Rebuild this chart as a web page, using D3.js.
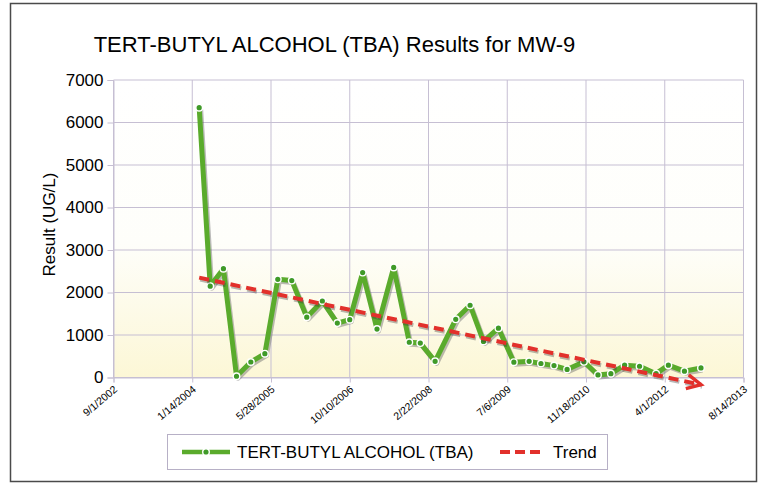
<!DOCTYPE html>
<html>
<head>
<meta charset="utf-8">
<script src="https://cdn.jsdelivr.net/npm/d3@7"></script>
<style>
  body { margin: 0; background: #fff; }
  text { font-family: Arial, "Liberation Sans", sans-serif; fill: #000; }
</style>
</head>
<body>
<div id="chart"></div>
<script>
////// DATA
// sample dates (m/d/yyyy) and TBA results in UG/L
var sampleDates = [
  "2/27/2004", "5/7/2004", "7/30/2004", "10/21/2004", "1/20/2005", "4/19/2005",
  "7/10/2005", "10/7/2005", "1/10/2006", "4/19/2006", "7/23/2006", "10/10/2006",
  "12/31/2006", "4/1/2007", "7/16/2007", "10/23/2007", "1/1/2008", "4/4/2008",
  "8/13/2008", "11/12/2008", "2/5/2009", "5/11/2009", "8/17/2009", "11/22/2009",
  "2/5/2010", "4/29/2010", "7/21/2010", "11/5/2010", "2/2/2011", "4/25/2011",
  "7/21/2011", "10/24/2011", "2/6/2012", "4/24/2012", "8/4/2012", "11/17/2012"
];
var tbaValues = [
  6350, 2150, 2560, 30, 365, 560,
  2310, 2280, 1420, 1800, 1280, 1360,
  2470, 1140, 2590, 830, 810, 380,
  1370, 1700, 850, 1160, 360, 380,
  330, 280, 190, 370, 60, 90,
  290, 265, 90, 290, 150, 225
];
// trend line end points
var trendDates = ["2/27/2004", "11/17/2012"];
var trendValues = [2350, -170];

// axis ticks
var xTickLabels = ["9/1/2002", "1/14/2004", "5/28/2005", "10/10/2006", "2/22/2008",
                   "7/6/2009", "11/18/2010", "4/1/2012", "8/14/2013"];
var yTicks = [0, 1000, 2000, 3000, 4000, 5000, 6000, 7000];

var seriesName = "TERT-BUTYL ALCOHOL (TBA)";
var trendName = "Trend";
var chartTitle = "TERT-BUTYL ALCOHOL (TBA) Results for MW-9";
var yTitle = "Result (UG/L)";

////// SETUP SVG
var W = 762, H = 487;
var margin = { top: 80, left: 113.5 },
    width = 630,
    height = 297.5;

var parseDate = d3.utcParse("%m/%d/%Y");
var fmt = d3.utcFormat("%-m/%-d/%Y");

var data = sampleDates.map(function(d, i) {
  return { date: parseDate(d), value: tbaValues[i] };
});
var trend = trendDates.map(function(d, i) {
  return { date: parseDate(d), value: trendValues[i] };
});
var xTicks = xTickLabels.map(parseDate);

var svg = d3.select("#chart").append("svg")
  .attr("width", W)
  .attr("height", H);

var defs = svg.append("defs");

// plot background: white at top fading to pale yellow
var grad = defs.append("linearGradient")
  .attr("id", "bg").attr("x1", 0).attr("y1", 0).attr("x2", 0).attr("y2", 1);
grad.append("stop").attr("offset", "0%").attr("stop-color", "#ffffff");
grad.append("stop").attr("offset", "55%").attr("stop-color", "#fefefa");
grad.append("stop").attr("offset", "100%").attr("stop-color", "#fcf7d6");

// trend arrowhead
defs.append("marker")
  .attr("id", "arrow")
  .attr("markerUnits", "userSpaceOnUse")
  .attr("viewBox", "-16 -9 20 18")
  .attr("refX", 0).attr("refY", 0)
  .attr("markerWidth", 20).attr("markerHeight", 18)
  .attr("orient", "auto")
  .append("path")
  .attr("d", "M-14,-7 L0,0 L-14,7")
  .attr("fill", "none")
  .attr("stroke", "#e2302b")
  .attr("stroke-width", 3.5);

// outer frame
svg.append("rect")
  .attr("x", 10.5).attr("y", 3.5)
  .attr("width", 746).attr("height", 478)
  .attr("fill", "#fff")
  .attr("stroke", "#4a4a4a")
  .attr("stroke-width", 1.5);

// title
svg.append("text")
  .attr("x", 334.5).attr("y", 52)
  .attr("text-anchor", "middle")
  .style("font-size", "22px")
  .text(chartTitle);

var g = svg.append("g")
  .attr("transform", "translate(" + margin.left + "," + margin.top + ")");

////// SCALES
var x = d3.scaleUtc()
  .domain([xTicks[0], xTicks[xTicks.length - 1]])
  .range([0, width]);

var y = d3.scaleLinear()
  .domain([0, 7000])
  .range([height, 0]);

g.append("rect")
  .attr("width", width).attr("height", height)
  .attr("fill", "url(#bg)");

////// GRID
var gridColor = "#c6bfd3";
g.append("g").selectAll("line")
  .data(yTicks)
  .join("line")
  .attr("x1", 0).attr("x2", width)
  .attr("y1", function(d) { return y(d); })
  .attr("y2", function(d) { return y(d); })
  .attr("stroke", gridColor);

g.append("g").selectAll("line")
  .data(xTicks)
  .join("line")
  .attr("y1", 0).attr("y2", height)
  .attr("x1", function(d) { return x(d); })
  .attr("x2", function(d) { return x(d); })
  .attr("stroke", gridColor);

////// AXES
var yAxis = g.append("g")
  .call(d3.axisLeft(y).tickValues(yTicks).tickSize(6).tickPadding(4).tickFormat(d3.format("d")));
yAxis.select(".domain").attr("stroke", gridColor);
yAxis.selectAll(".tick line").attr("stroke", gridColor);
yAxis.selectAll("text").style("font-size", "17px").attr("fill", "#000");

var xAxis = g.append("g")
  .attr("transform", "translate(0," + height + ")")
  .call(d3.axisBottom(x).tickValues(xTicks).tickSize(5).tickFormat(fmt));
xAxis.select(".domain").attr("stroke", gridColor);
xAxis.selectAll(".tick line").attr("stroke", gridColor);
xAxis.selectAll("text")
  .attr("x", 0).attr("y", 0).attr("dy", 0)
  .attr("text-anchor", "end")
  .attr("transform", "translate(4,13) rotate(-40)")
  .style("font-size", "10.5px")
  .attr("fill", "#000");

// y axis title
svg.append("text")
  .attr("transform", "translate(54.5,224.5) rotate(-90)")
  .attr("text-anchor", "middle")
  .style("font-size", "17px")
  .text(yTitle);

////// SERIES
var line = d3.line()
  .x(function(d) { return x(d.date); })
  .y(function(d) { return y(d.value); });

// shadows
g.append("path")
  .datum(data)
  .attr("d", line)
  .attr("transform", "translate(1.5,2)")
  .attr("fill", "none")
  .attr("stroke", "#6b6b6b")
  .attr("stroke-opacity", 0.45)
  .attr("stroke-width", 5)
  .attr("stroke-linejoin", "round");

g.append("path")
  .datum(data)
  .attr("d", line)
  .attr("fill", "none")
  .attr("stroke", "#5aab2c")
  .attr("stroke-width", 5)
  .attr("stroke-linejoin", "round");

g.append("g").selectAll("circle")
  .data(data)
  .join("circle")
  .attr("cx", function(d) { return x(d.date); })
  .attr("cy", function(d) { return y(d.value); })
  .attr("r", 3.3)
  .attr("fill", "#3f9a28")
  .attr("stroke", "#fff")
  .attr("stroke-width", 1.4);

// trend
g.append("path")
  .datum(trend)
  .attr("d", line)
  .attr("transform", "translate(1,2)")
  .attr("fill", "none")
  .attr("stroke", "#333")
  .attr("stroke-opacity", 0.35)
  .attr("stroke-width", 4)
  .attr("stroke-dasharray", "10,6");

g.append("path")
  .datum(trend)
  .attr("d", line)
  .attr("fill", "none")
  .attr("stroke", "#e2302b")
  .attr("stroke-width", 4)
  .attr("stroke-dasharray", "10,6")
  .attr("marker-end", "url(#arrow)");

////// LEGEND
var legend = svg.append("g");
legend.append("rect")
  .attr("x", 167.5).attr("y", 434.5)
  .attr("width", 440).attr("height", 35)
  .attr("fill", "#fff")
  .attr("stroke", "#b7b0c6");

legend.append("line")
  .attr("x1", 182).attr("x2", 230).attr("y1", 452).attr("y2", 452)
  .attr("stroke", "#5aab2c").attr("stroke-width", 4.5);
legend.append("circle")
  .attr("cx", 206).attr("cy", 452).attr("r", 3.3)
  .attr("fill", "#3f9a28").attr("stroke", "#fff").attr("stroke-width", 1.4);
legend.append("text")
  .attr("x", 237).attr("y", 458)
  .style("font-size", "17px")
  .text(seriesName);

legend.append("line")
  .attr("x1", 500).attr("x2", 542).attr("y1", 452).attr("y2", 452)
  .attr("stroke", "#e2302b").attr("stroke-width", 4)
  .attr("stroke-dasharray", "10,5");
legend.append("text")
  .attr("x", 553).attr("y", 458)
  .style("font-size", "17px")
  .text(trendName);
</script>
</body>
</html>
